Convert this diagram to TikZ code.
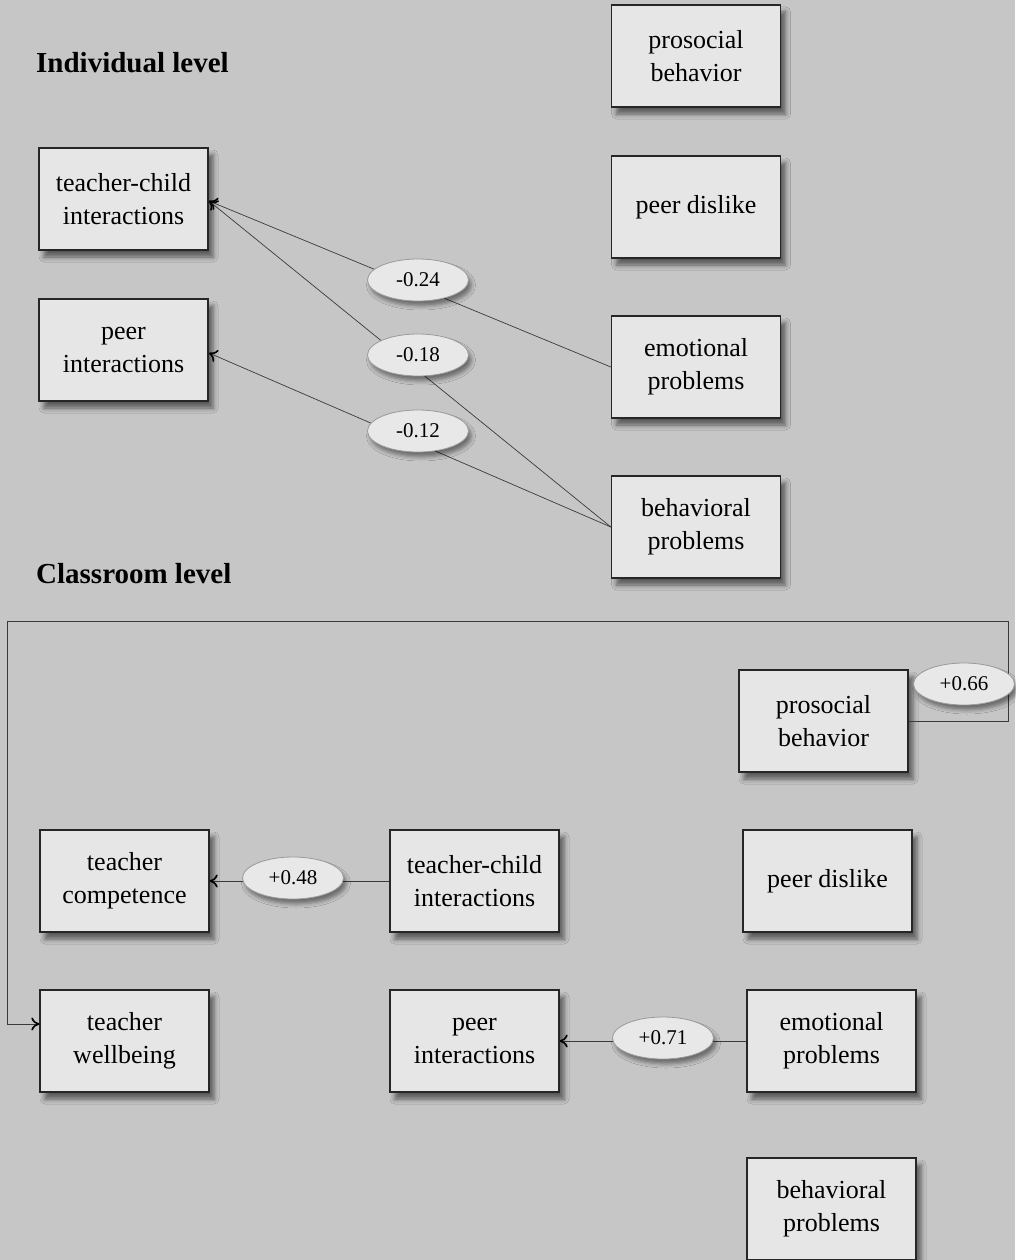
\documentclass[tikz,border=0pt]{standalone}
\usepackage{fontspec}
\setmainfont{Liberation Serif}
\usetikzlibrary{shapes.geometric,shadows.blur,arrows.meta}
\definecolor{bgc}{HTML}{C6C6C6}
\definecolor{boxc}{HTML}{E6E6E6}
\definecolor{ellc}{HTML}{E8E8E8}
\definecolor{ellb}{HTML}{9A9A9A}
\definecolor{linec}{HTML}{3A3A3A}
\tikzset{
  varbox/.style={draw=black!85, line width=1.3pt, fill=boxc, minimum width=169pt, minimum height=102pt,
    inner sep=0pt, align=center, font=\fontsize{26}{33}\selectfont,
    blur shadow={shadow xshift=5pt, shadow yshift=-7pt, shadow blur radius=5pt, shadow opacity=55}},
  coef/.style={ellipse, draw=ellb, line width=0.8pt, fill=ellc, minimum width=101pt, minimum height=42pt,
    inner sep=0pt, font=\fontsize{21}{24}\selectfont,
    blur shadow={shadow xshift=3pt, shadow yshift=-5pt, shadow blur radius=4pt, shadow opacity=45}},
  conn/.style={draw=linec, line width=0.7pt},
  arr/.style={conn, -{To[length=8pt, width=13pt, line width=1.6pt, color=black]}},
  heading/.style={anchor=west, font=\fontsize{29}{32}\selectfont\bfseries, inner sep=0pt}
}
\begin{document}
\begin{tikzpicture}[x=1pt, y=-1pt]
\fill[bgc] (0,0) rectangle (1015,1260);
\useasboundingbox (0,0) rectangle (1015,1260);

% headings
\node[heading] (hind) at (36,63) {Individual level};
\node[heading] (hcls) at (36,574) {Classroom level};

% individual level boxes
\node[varbox] (ipro) at (696,56) {prosocial\\behavior};
\node[varbox] (idis) at (696,207) {peer dislike};
\node[varbox] (iemo) at (696,367) {emotional\\problems};
\node[varbox] (ibeh) at (696,527) {behavioral\\problems};
\node[varbox] (itc) at (123.5,199) {teacher-child\\interactions};
\node[varbox] (ipeer) at (123.5,350) {peer\\interactions};

% classroom level boxes
\node[varbox] (cpro) at (823.5,721) {prosocial\\behavior};
\node[varbox] (cdis) at (827.5,881) {peer dislike};
\node[varbox] (cemo) at (831.5,1041) {emotional\\problems};
\node[varbox] (cbeh) at (831.5,1209) {behavioral\\problems};
\node[varbox] (ccomp) at (124.5,881) {teacher\\competence};
\node[varbox] (cwell) at (124.5,1041) {teacher\\wellbeing};
\node[varbox] (ctc) at (474.5,881) {teacher-child\\interactions};
\node[varbox] (cpeer) at (474.5,1041) {peer\\interactions};

% connectors individual level
\coordinate (itcin) at (209,201);
\coordinate (ipeerin) at (209,353);
\draw[arr] (iemo.west) -- (itcin);
\draw[arr] (ibeh.west) -- (itcin);
\draw[arr] (ibeh.west) -- (ipeerin);

% connectors classroom level
\draw[arr] (ctc.west) -- (ccomp.east);
\draw[arr] (cemo.west) -- (cpeer.east);
\coordinate (loopR) at (1008,621);
\coordinate (loopL) at (7,621);
\coordinate (loopE) at (7,1024);
\draw[arr] (cpro.east) -| (loopR) -- (loopL) -- (loopE) -- (loopE -| cwell.west);

% coefficients
\node[coef] (e24) at (418,280) {-0.24};
\node[coef] (e18) at (418,355) {-0.18};
\node[coef] (e12) at (418,431) {-0.12};
\node[coef] (e48) at (293,878) {+0.48};
\node[coef] (e71) at (663,1038) {+0.71};
\node[coef] (e66) at (964,684) {+0.66};
\end{tikzpicture}
\end{document}
